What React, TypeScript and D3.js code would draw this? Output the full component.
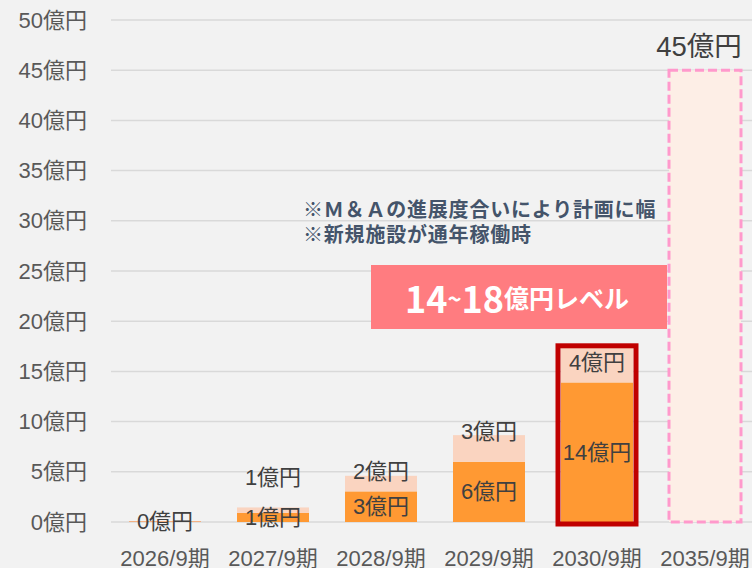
import React from "react";
import * as d3 from "d3";

const categories = ["2026/9期", "2027/9期", "2028/9期", "2029/9期", "2030/9期", "2035/9期"];
// base (existing) and M&A/new facility portion, in 億円
const baseValues = [0.1, 0.9, 3.05, 6.0, 13.9, 0];
const addValues = [0, 0.55, 1.55, 2.65, 3.5, 0];
const baseLabels = ["0億円", "1億円", "3億円", "6億円", "14億円", ""];
const addLabels = ["", "1億円", "2億円", "3億円", "4億円", ""];
const targetValue = 45;
const targetLabel = "45億円";
const yTicks = [0, 5, 10, 15, 20, 25, 30, 35, 40, 45, 50];
const highlightIndex = 4;
const targetIndex = 5;
const noteLines = ["※Ｍ＆Ａの進展度合いにより計画に幅", "※新規施設が通年稼働時"];

const W = 752;
const H = 568;
const LABEL_NUDGE = [0, -33, -12, -17, -2, 0];

const LATIN = "'Liberation Sans', Arial, 'Noto Sans CJK JP', sans-serif";
const CJK = "'Noto Sans CJK JP', 'Noto Sans', sans-serif";

export default function App() {
  const x = d3.scaleBand<string>().domain(categories).range([111, 759]).paddingInner(1 / 3).paddingOuter(1 / 6);
  const y = d3.scaleLinear().domain([0, 50]).range([522, 20]);
  const bw = x.bandwidth();

  return (
    <div style={{ position: "absolute", left: 0, top: 0 }}>
      <svg width={W} height={H} style={{ display: "block", background: "#f2f2f2" }}>
        <rect x={0} y={0} width={W} height={H} fill="#f2f2f2" />
        {yTicks.map((t) => (
          <g key={t}>
            <line x1={111} x2={W} y1={y(t)} y2={y(t)} stroke="#d9d9d9" strokeWidth={1.5} />
            <text x={87} y={y(t)} textAnchor="end" dominantBaseline="central" fontSize={22} fill="#595959" fontFamily={LATIN}>
              {t}億円
            </text>
          </g>
        ))}

        {categories.map((c, i) => {
          if (i === targetIndex) return null;
          const x0 = x(c)!;
          const b = baseValues[i];
          const a = addValues[i];
          return (
            <g key={c}>
              <rect x={x0} width={bw} y={y(b)} height={y(0) - y(b)} fill={i === 0 ? "#f4b183" : "#ff9933"} />
              {a > 0 && <rect x={x0} width={bw} y={y(b + a)} height={y(b) - y(b + a)} fill="#fad4c0" />}
            </g>
          );
        })}

        {/* highlight border */}
        {(() => {
          const c = categories[highlightIndex];
          const top = y(baseValues[highlightIndex] + addValues[highlightIndex]);
          return (
            <rect x={x(c)! - 3} y={top - 1.5} width={bw + 6} height={y(0) - top + 3.5} fill="none" stroke="#c00000" strokeWidth={5} />
          );
        })()}

        {/* target dashed bar */}
        {(() => {
          const c = categories[targetIndex];
          return (
            <g>
              <rect x={x(c)!} y={y(targetValue)} width={bw} height={y(0) - y(targetValue)} fill="#fdeee6" stroke="#ff99cc" strokeWidth={3} strokeDasharray="9,4" />
              <text x={x(c)! + bw / 2 - 6} y={y(targetValue) - 24} textAnchor="middle" dominantBaseline="central" fontSize={27.5} fill="#404040" fontFamily={LATIN}>
                {targetLabel}
              </text>
            </g>
          );
        })()}

        {categories.map((c, i) => {
          const cx = x(c)! + bw / 2;
          const b = baseValues[i];
          const a = addValues[i];
          return (
            <g key={"l" + c} fontFamily={LATIN} fontSize={22} fill="#404040" textAnchor="middle">
              {baseLabels[i] && (
                <text x={cx} y={(y(0) + y(b)) / 2} dominantBaseline="central">
                  {baseLabels[i]}
                </text>
              )}
              {addLabels[i] && (
                <text x={cx} y={(y(b) + y(b + a)) / 2 + LABEL_NUDGE[i]} dominantBaseline="central">
                  {addLabels[i]}
                </text>
              )}
              <text x={cx} y={558} dominantBaseline="central" fontSize={22} fill="#595959">
                {c}
              </text>
            </g>
          );
        })}

        {/* notes */}
        {noteLines.map((l, i) => (
          <text key={l} x={303} y={208 + i * 25} dominantBaseline="central" fontSize={20} letterSpacing={0.8} fontWeight={700} fill="#44546a" fontFamily={CJK}>
            {l}
          </text>
        ))}

        {/* pink callout */}
        <rect x={371} y={265} width={296} height={64} fill="#ff7c80" />
        <text x={517} y={297} textAnchor="middle" dominantBaseline="central" fill="#ffffff" fontWeight={700} fontFamily={CJK}>
          <tspan fontSize={36}>14</tspan>
          <tspan fontSize={24}>~</tspan>
          <tspan fontSize={36}>18</tspan>
          <tspan fontSize={25}>億円レベル</tspan>
        </text>
      </svg>
    </div>
  );
}
